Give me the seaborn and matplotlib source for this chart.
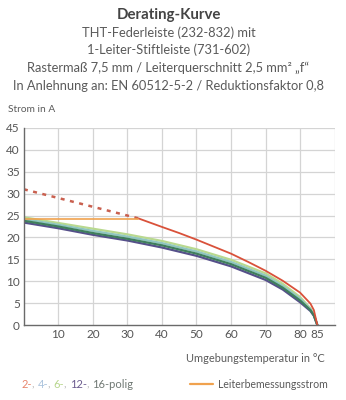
import matplotlib
matplotlib.use("Agg")
import matplotlib.pyplot as plt
from matplotlib.lines import Line2D
import seaborn as sns
import pandas as pd
import numpy as np

# ---- data ----
temps_band = [0, 10, 20, 30, 40, 50, 60, 70, 75, 80, 83, 84, 85]
polig6 = [24.6, 23.3, 22.0, 20.7, 19.2, 17.3, 14.9, 11.8, 9.4, 6.4, 3.8, 2.4, 0.0]
polig4 = [24.2, 22.9, 21.5, 20.2, 18.7, 16.8, 14.4, 11.3, 8.9, 6.0, 3.6, 2.3, 0.0]
polig16 = [23.8, 22.5, 21.0, 19.7, 18.2, 16.3, 13.9, 10.8, 8.5, 5.6, 3.4, 2.2, 0.0]
polig12 = [23.4, 22.1, 20.6, 19.3, 17.7, 15.8, 13.4, 10.3, 8.1, 5.2, 3.2, 2.1, 0.0]

temps_2 = [33, 40, 45, 50, 55, 60, 65, 70, 75, 80, 83, 84, 85]
polig2 = [24.4, 22.4, 21.0, 19.5, 17.9, 16.3, 14.4, 12.4, 10.1, 7.4, 4.9, 3.4, 0.0]

temps_2_dashed = [0, 16, 33]
polig2_dashed = [31.0, 27.8, 24.4]

temps_rated = [0, 33]
rated_current = [24.3, 24.3]

x_ticks = [10, 20, 30, 40, 50, 60, 70, 80, 85]
y_ticks = [0, 5, 10, 15, 20, 25, 30, 35, 40, 45]

title_lines = [
    "THT-Federleiste (232-832) mit",
    "1-Leiter-Stiftleiste (731-602)",
    "Rastermaß 7,5 mm / Leiterquerschnitt 2,5 mm² „f“",
    "In Anlehnung an: EN 60512-5-2 / Reduktionsfaktor 0,8",
]
legend_pieces = ["2-", ", ", "4-", ", ", "6-", ", ", "12-", ", ", "16-polig"]
legend_colors = ["#e8836a", "#b0b0b0", "#a9c2dc", "#b0b0b0", "#b7d68c",
                 "#b0b0b0", "#6b5b8e", "#b0b0b0", "#6f7873"]

# ---- styling ----
sns.set_style("white")
plt.rcParams["font.family"] = ["Lato", "DejaVu Sans"]
TXT = "#5a5a5a"

fig = plt.figure(figsize=(3.46, 4.0), dpi=100)
ax = fig.add_axes([0.069, 0.1875, 0.898, 0.4925])

n = len(temps_band)
band = pd.DataFrame({
    "T": temps_band * 4,
    "I": polig6 + polig4 + polig16 + polig12,
    "serie": ["6"] * n + ["4"] * n + ["16"] * n + ["12"] * n,
})
band_palette = {"6": "#b9d98f", "4": "#8fc6c0", "16": "#3f7f5c", "12": "#56508a"}
sns.lineplot(data=band, x="T", y="I", hue="serie", palette=band_palette,
             hue_order=["6", "4", "12", "16"], linewidth=1.6, legend=False,
             ax=ax, sort=False)

red = pd.DataFrame({"T": temps_2, "I": polig2})
sns.lineplot(data=red, x="T", y="I", color="#d9513a", linewidth=1.3, ax=ax, sort=False)

red_d = pd.DataFrame({"T": temps_2_dashed, "I": polig2_dashed})
sns.lineplot(data=red_d, x="T", y="I", color="#c9604f", linewidth=1.8, ax=ax,
             sort=False, linestyle=(0, (1.6, 2.2)))

rated = pd.DataFrame({"T": temps_rated, "I": rated_current})
sns.lineplot(data=rated, x="T", y="I", color="#f0a24e", linewidth=1.2, ax=ax, sort=False)

ax.set_xlim(0, 90)
ax.set_ylim(0, 45)
ax.set_xticks(x_ticks)
ax.set_yticks(y_ticks)
ax.set_xticklabels([str(t) for t in x_ticks])
ax.set_yticklabels([str(t) for t in y_ticks])
ax.set_xticks(np.arange(0, 91, 1), minor=True)
ax.set_yticks(np.arange(0, 46, 1), minor=True)
ax.set_xlabel("")
ax.set_ylabel("")

for gx in range(10, 91, 10):
    ax.axvline(gx, color="#d4d4d4", linewidth=0.9, zorder=0)
for gy in range(5, 46, 5):
    ax.axhline(gy, color="#d4d4d4", linewidth=0.9, zorder=0)

for s in ["top", "right"]:
    ax.spines[s].set_visible(False)
for s in ["left", "bottom"]:
    ax.spines[s].set_color("#6a6a6a")
    ax.spines[s].set_linewidth(1.0)
ax.tick_params(axis="both", which="major", length=3, width=0.8, color="#6a6a6a",
               labelsize=8.5, labelcolor="#555555", pad=1.5, direction="inout")
ax.tick_params(axis="both", which="minor", length=2.5, width=0.6, color="#6a6a6a",
               direction="inout")

# ---- texts ----
fig.text(0.487, 1 - 15 / 400, "Derating-Kurve", ha="center", va="center",
         fontsize=10.8, fontweight="bold", color="#444444")
for line, y in zip(title_lines, [33, 50, 68, 86]):
    fig.text(0.487, 1 - y / 400, line, ha="center", va="center",
             fontsize=9.3, color=TXT)

fig.text(8 / 346, 1 - 109 / 400, "Strom in A", ha="left", va="center",
         fontsize=7.3, color=TXT)
fig.text(325 / 346, 1 - 358 / 400, "Umgebungstemperatur in °C", ha="right",
         va="center", fontsize=7.9, color=TXT)

prev = fig.text(22 / 346, 1 - 384 / 400, legend_pieces[0], ha="left", va="center",
                fontsize=8.0, color=legend_colors[0])
for txt, col in zip(legend_pieces[1:], legend_colors[1:]):
    prev = ax.annotate(txt, xy=(1, 0), xycoords=prev, xytext=(0, 0),
                       textcoords="offset points", ha="left", va="bottom",
                       fontsize=8.0, color=col, annotation_clip=False)

fig.add_artist(Line2D([190 / 346, 213 / 346], [1 - 384 / 400, 1 - 384 / 400],
                      color="#f0a24e", linewidth=1.6))
fig.text(218 / 346, 1 - 384 / 400, "Leiterbemessungsstrom", ha="left", va="center",
         fontsize=7.6, color=TXT)

fig.savefig("out.png", dpi=100)
